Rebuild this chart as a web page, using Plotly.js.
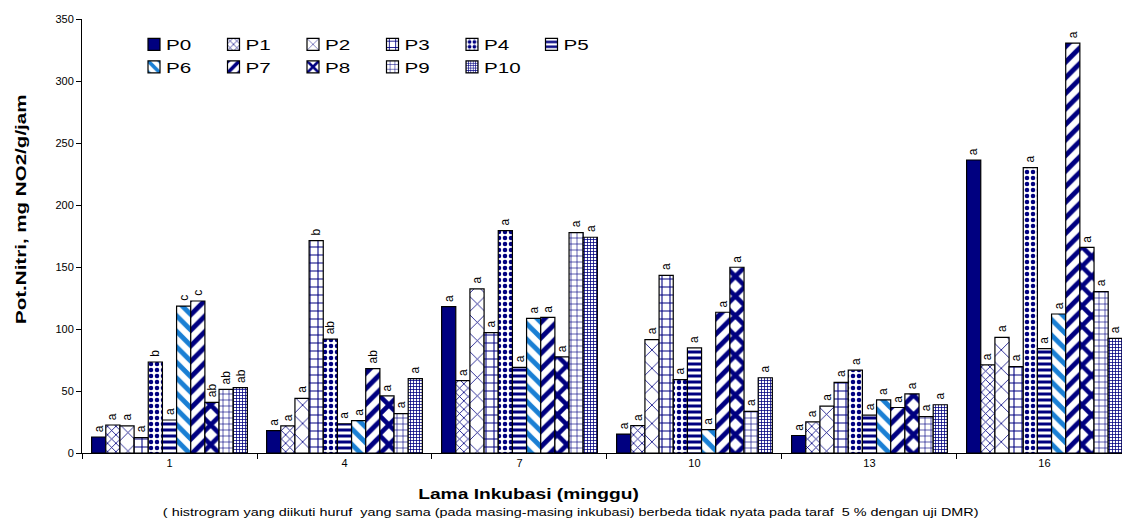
<!DOCTYPE html>
<html>
<head>
<meta charset="utf-8">
<script src="https://cdn.plot.ly/plotly-3.0.1.min.js"></script>
<style>
  html, body { margin: 0; padding: 0; background: #fff; overflow: hidden; }
  #chart { width: 1122px; height: 520px; }
</style>
</head>
<body>
<div id="chart"></div>
<script>
// Incubation weeks (categories on the x axis)
const weeks = ['1', '4', '7', '10', '13', '16'];

// Nitrification potential per treatment (mg NO2/g/jam)
const p0  = [12.9, 18.1, 118.0, 15.3, 14.1, 236.3];
const p1  = [22.6, 21.9, 58.4, 22.1, 25.1, 71.0];
const p2  = [21.8, 44.1, 132.3, 91.4, 37.8, 93.2];
const p3  = [12.4, 171.2, 97.0, 143.2, 56.9, 69.6];
const p4  = [73.4, 91.9, 179.3, 59.2, 66.8, 230.1];
const p5  = [26.6, 23.6, 69.1, 84.7, 30.5, 84.1];
const p6  = [118.5, 26.1, 108.5, 18.8, 42.9, 112.1];
const p7  = [122.6, 68.0, 109.3, 113.5, 36.7, 330.6];
const p8  = [40.9, 46.0, 77.6, 149.8, 47.7, 165.8];
const p9  = [51.3, 31.7, 177.7, 33.6, 29.4, 130.1];
const p10 = [52.7, 59.9, 174.0, 60.7, 38.9, 92.4];

// DMR significance letters per treatment
const l0  = ['a', 'a', 'a', 'a', 'a', 'a'];
const l1  = ['a', 'a', 'a', 'a', 'a', 'a'];
const l2  = ['a', 'a', 'a', 'a', 'a', 'a'];
const l3  = ['a', 'b', 'a', 'a', 'a', 'a'];
const l4  = ['b', 'ab', 'a', 'a', 'a', 'a'];
const l5  = ['a', 'a', 'a', 'a', 'a', 'a'];
const l6  = ['c', 'a', 'a', 'a', 'a', 'a'];
const l7  = ['c', 'ab', 'a', 'a', 'a', 'a'];
const l8  = ['ab', 'a', 'a', 'a', 'a', 'a'];
const l9  = ['ab', 'a', 'a', 'a', 'a', 'a'];
const l10 = ['ab', 'a', 'a', 'a', 'a', 'a'];

const names = ['P0', 'P1', 'P2', 'P3', 'P4', 'P5', 'P6', 'P7', 'P8', 'P9', 'P10'];
const values = [p0, p1, p2, p3, p4, p5, p6, p7, p8, p9, p10];
const letters = [l0, l1, l2, l3, l4, l5, l6, l7, l8, l9, l10];

const NAVY = '#000080';
const SKY = '#1a7fd4';
const FONT = 'Liberation Sans, Arial, sans-serif';
const BARGAP = 0.11;
const LEGEND_COLS = 6;

// Fill style for each treatment
const fills = [
  { solid: true },
  { shape: 'x', size: 6, solidity: 0.25, fg: NAVY },
  { shape: 'x', size: 13, solidity: 0.12, fg: NAVY },
  { shape: '+', size: 8, solidity: 0.25, fg: NAVY },
  { shape: '.', size: 6, solidity: 0.45, fg: NAVY },
  { shape: '-', size: 6, solidity: 0.5, fg: NAVY },
  { shape: '\\', size: 11, solidity: 0.45, fg: SKY },
  { shape: '/', size: 11, solidity: 0.45, fg: NAVY },
  { shape: 'x', size: 14, solidity: 0.55, fg: NAVY },
  { shape: '+', size: 6, solidity: 0.2, fg: NAVY },
  { shape: '+', size: 3, solidity: 0.45, fg: NAVY }
];

const traces = names.map((name, i) => {
  const f = fills[i];
  const marker = { line: { color: '#000', width: 1.2 } };
  if (f.solid) {
    marker.color = NAVY;
  } else {
    marker.color = '#ffffff';
    marker.pattern = {
      shape: f.shape, size: f.size, solidity: f.solidity,
      fgcolor: f.fg, bgcolor: '#ffffff', fillmode: 'replace'
    };
  }
  return {
    type: 'bar',
    name: name,
    x: weeks,
    y: values[i],
    marker: marker,
    // legend columns: P0/P6, P1/P7, ... P5
    legendgroup: 'col' + (i % LEGEND_COLS),
    hoverinfo: 'x+y+name'
  };
});

// Significance letters, rotated, sitting just above each bar
const slot = (1 - BARGAP) / names.length;
const letterNotes = [];
names.forEach((name, i) => {
  weeks.forEach((w, j) => {
    letterNotes.push({
      xref: 'x', yref: 'y',
      x: j + (i - (names.length - 1) / 2) * slot,
      y: values[i][j],
      text: letters[i][j],
      textangle: -90,
      xanchor: 'center', yanchor: 'bottom',
      yshift: 3,
      showarrow: false,
      font: { family: FONT, size: 12, color: '#000' }
    });
  });
});

const layout = {
  width: 1122,
  height: 520,
  margin: { l: 82, r: 0, t: 19, b: 67 },
  paper_bgcolor: '#fff',
  plot_bgcolor: '#fff',
  barmode: 'group',
  bargap: BARGAP,
  bargroupgap: 0,
  showlegend: true,
  legend: {
    orientation: 'h',
    traceorder: 'grouped',
    x: 0.05, xanchor: 'left',
    y: 0.979, yanchor: 'top',
    bgcolor: 'rgba(0,0,0,0)',
    borderwidth: 0,
    font: { family: FONT, size: 15, color: '#000' },
    entrywidthmode: 'pixels',
    entrywidth: 34.5,
    itemwidth: 30,
    tracegroupgap: 0
  },
  xaxis: {
    type: 'category',
    range: [-0.5, 5.443],
    showline: true,
    linecolor: '#000',
    linewidth: 1,
    ticks: 'outside',
    tickson: 'boundaries',
    ticklen: 5,
    tickcolor: '#000',
    showgrid: false,
    zeroline: false,
    tickfont: { family: FONT, size: 11, color: '#000' }
  },
  yaxis: {
    range: [0, 350],
    dtick: 50,
    showline: true,
    linecolor: '#000',
    linewidth: 1,
    ticks: 'outside',
    ticklen: 5,
    tickcolor: '#000',
    showgrid: false,
    zeroline: false,
    tickfont: { family: FONT, size: 11, color: '#000' }
  },
  annotations: [
    {
      text: '<b>Pot.Nitri, mg NO2/g/jam</b>',
      xref: 'paper', yref: 'paper',
      x: (20 - 82) / 1040, y: (453 - 209) / 434,
      xanchor: 'center', yanchor: 'middle',
      textangle: -90,
      showarrow: false,
      font: { family: FONT, size: 15, color: '#000' }
    },
    {
      text: '<b>Lama Inkubasi (minggu)</b>',
      xref: 'paper', yref: 'paper',
      x: (528 - 82) / 1040, y: -0.095,
      xanchor: 'center', yanchor: 'middle',
      showarrow: false,
      font: { family: FONT, size: 14, color: '#000' }
    },
    {
      text: '( histrogram yang diikuti huruf  yang sama (pada masing-masing inkubasi) berbeda tidak nyata pada taraf  5 % dengan uji DMR)',
      xref: 'paper', yref: 'paper',
      x: (570 - 82) / 1040, y: -0.135,
      xanchor: 'center', yanchor: 'middle',
      showarrow: false,
      font: { family: FONT, size: 10.5, color: '#000' }
    }
  ].concat(letterNotes)
};

// Wide-set lettering: stretch a text run along its baseline
const WIDE = 1.37;
function widen(el) {
  if (el.hasAttribute('textLength')) return;
  const len = el.getComputedTextLength();
  if (!len) return;
  el.setAttribute('textLength', (len * WIDE).toFixed(1));
  el.setAttribute('lengthAdjust', 'spacingAndGlyphs');
}

function dressText(gd) {
  gd.querySelectorAll('text.legendtext').forEach(t => {
    if (t.getAttribute('x') !== '32') t.setAttribute('x', 32);
    widen(t);
  });
  gd.querySelectorAll('text.annotation-text').forEach(t => {
    const s = t.textContent;
    if (s.startsWith('Lama') || s.startsWith('(') || s.startsWith('Pot')) widen(t);
  });
}

Plotly.newPlot('chart', traces, layout, { displayModeBar: false, staticPlot: true }).then(gd => {
  dressText(gd);
  let n = 0;
  const timer = setInterval(() => {
    dressText(gd);
    if (++n > 30) clearInterval(timer);
  }, 100);
});
</script>
</body>
</html>
